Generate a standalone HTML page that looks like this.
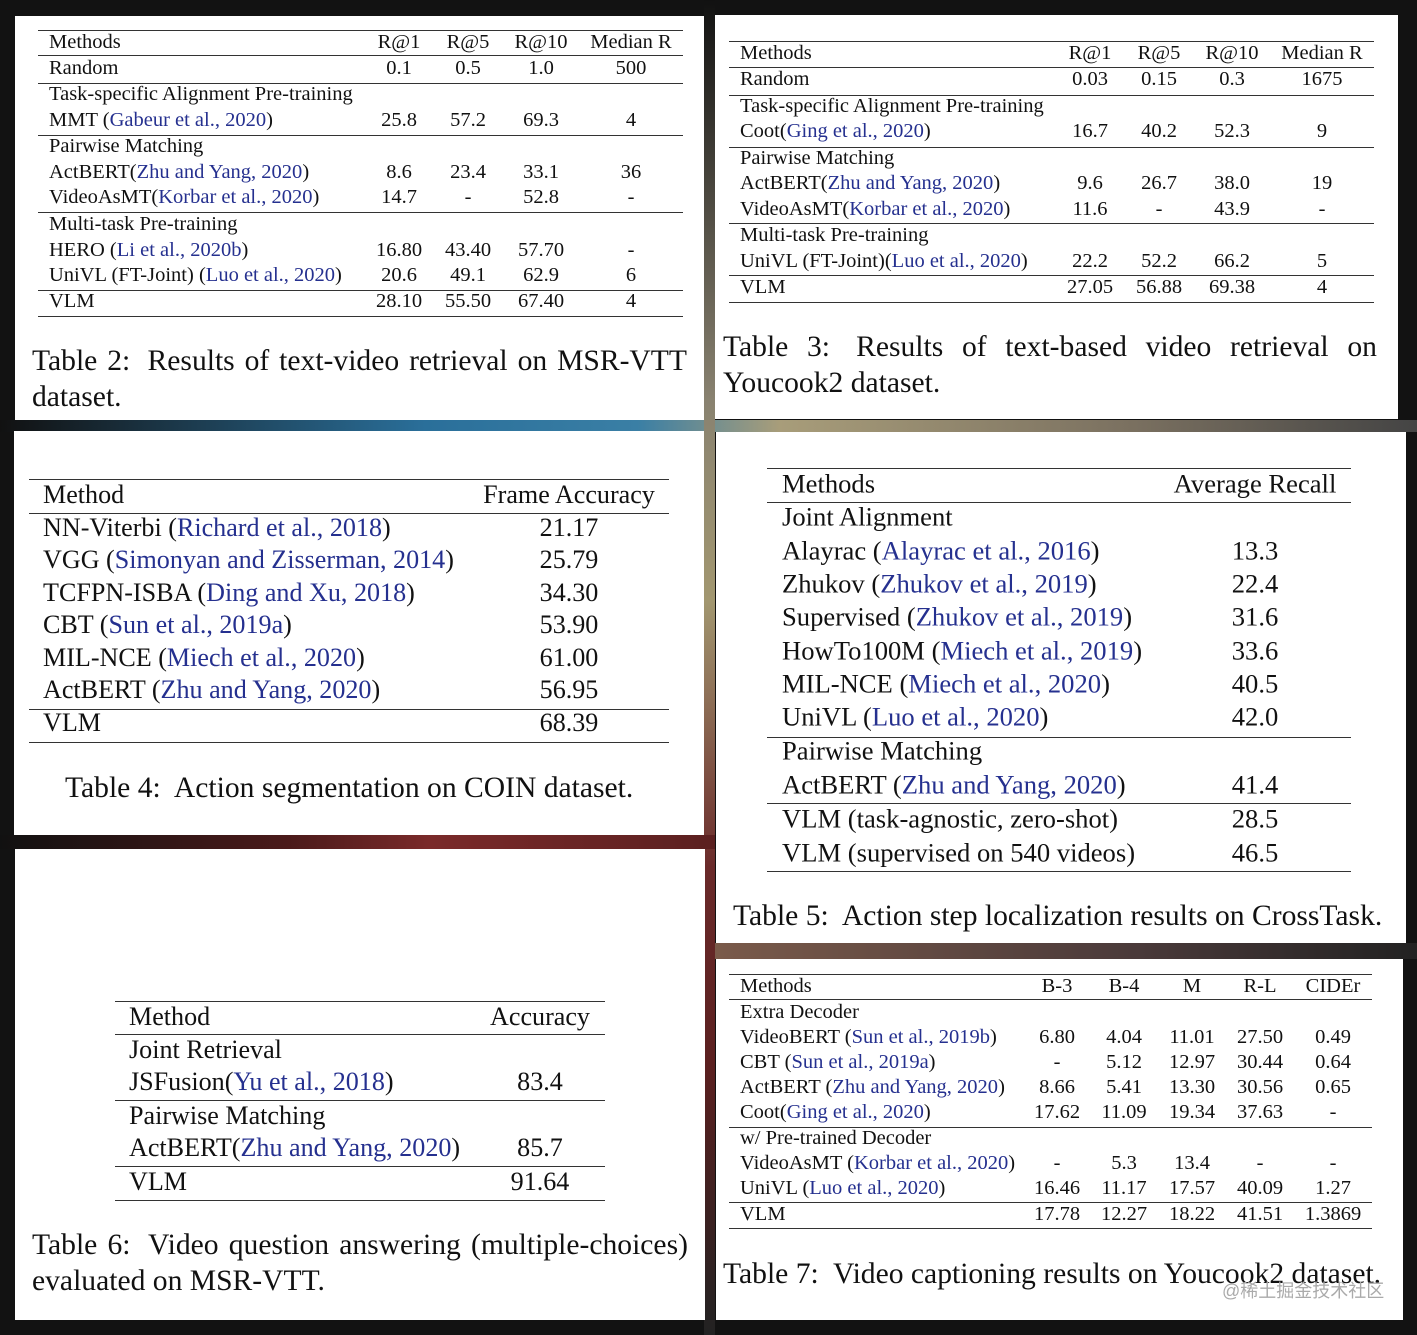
<!DOCTYPE html>
<html><head><meta charset="utf-8"><style>
body{margin:0;width:1417px;height:1335px;background:#121212;position:relative;overflow:hidden;font-family:"Liberation Serif","Noto Serif CJK SC",serif;color:#111}
.p{position:absolute;background:#fff}
.t,.c{position:absolute;white-space:nowrap;transform:translate(0,-50%);line-height:1}
.c{transform:translate(-50%,-50%)}
.l{position:absolute;height:1px;background:#333}
a,.a{color:#25308f;text-decoration:none}
.s{font-size:20.5px}
.m{font-size:26.1px}
.m5{font-size:26.6px}
.cap{font-size:29.6px}
.j{display:flex;justify-content:space-between}
.strip{position:absolute}
</style></head><body>
<div class="strip" style="left:0;top:420px;width:1417px;height:12px;background:linear-gradient(90deg,#111 0,#2a6f9a 30%,#3a7fa5 45%,#a89d7a 55%,#7a7060 80%,#444 100%)"></div>
<div class="strip" style="left:704px;top:0;width:11px;height:1335px;background:linear-gradient(180deg,#111 0,#898270 30%,#a29770 45%,#6a2a2a 65%,#5b2020 80%,#222 100%)"></div>
<div class="strip" style="left:0;top:835px;width:715px;height:14px;background:linear-gradient(90deg,#111 0,#4a1a1a 40%,#7a2a2a 60%,#5b2020 100%)"></div>
<div class="strip" style="left:715px;top:943px;width:702px;height:16px;background:linear-gradient(90deg,#7a5a4a,#4a3a3a 60%,#222)"></div>

<!-- Table 2 -->
<div class="p s" style="left:15px;top:16px;width:689px;height:404px">
<div class="l" style="left:23px;width:645px;top:14px"></div>
<div class="l" style="left:23px;width:645px;top:39px"></div>
<div class="l" style="left:23px;width:645px;top:67px"></div>
<div class="l" style="left:23px;width:645px;top:119px"></div>
<div class="l" style="left:23px;width:645px;top:196px"></div>
<div class="l" style="left:23px;width:645px;top:274px"></div>
<div class="l" style="left:23px;width:645px;top:300px"></div>
<span class="t" style="left:34px;top:26px">Methods</span><span class="c" style="left:384px;top:26px">R@1</span><span class="c" style="left:453px;top:26px">R@5</span><span class="c" style="left:526px;top:26px">R@10</span><span class="c" style="left:616px;top:26px">Median R</span>
<span class="t" style="left:34px;top:52px">Random</span><span class="c" style="left:384px;top:52px">0.1</span><span class="c" style="left:453px;top:52px">0.5</span><span class="c" style="left:526px;top:52px">1.0</span><span class="c" style="left:616px;top:52px">500</span>
<span class="t" style="left:34px;top:78px">Task-specific Alignment Pre-training</span>
<span class="t" style="left:34px;top:104px">MMT (<a>Gabeur et al., 2020</a>)</span><span class="c" style="left:384px;top:104px">25.8</span><span class="c" style="left:453px;top:104px">57.2</span><span class="c" style="left:526px;top:104px">69.3</span><span class="c" style="left:616px;top:104px">4</span>
<span class="t" style="left:34px;top:130px">Pairwise Matching</span>
<span class="t" style="left:34px;top:156px">ActBERT(<a>Zhu and Yang, 2020</a>)</span><span class="c" style="left:384px;top:156px">8.6</span><span class="c" style="left:453px;top:156px">23.4</span><span class="c" style="left:526px;top:156px">33.1</span><span class="c" style="left:616px;top:156px">36</span>
<span class="t" style="left:34px;top:181px">VideoAsMT(<a>Korbar et al., 2020</a>)</span><span class="c" style="left:384px;top:181px">14.7</span><span class="c" style="left:453px;top:181px">-</span><span class="c" style="left:526px;top:181px">52.8</span><span class="c" style="left:616px;top:181px">-</span>
<span class="t" style="left:34px;top:208px">Multi-task Pre-training</span>
<span class="t" style="left:34px;top:234px">HERO (<a>Li et al., 2020b</a>)</span><span class="c" style="left:384px;top:234px">16.80</span><span class="c" style="left:453px;top:234px">43.40</span><span class="c" style="left:526px;top:234px">57.70</span><span class="c" style="left:616px;top:234px">-</span>
<span class="t" style="left:34px;top:259px">UniVL (FT-Joint) (<a>Luo et al., 2020</a>)</span><span class="c" style="left:384px;top:259px">20.6</span><span class="c" style="left:453px;top:259px">49.1</span><span class="c" style="left:526px;top:259px">62.9</span><span class="c" style="left:616px;top:259px">6</span>
<span class="t" style="left:34px;top:285px">VLM</span><span class="c" style="left:384px;top:285px">28.10</span><span class="c" style="left:453px;top:285px">55.50</span><span class="c" style="left:526px;top:285px">67.40</span><span class="c" style="left:616px;top:285px">4</span>
<span class="t cap j" style="left:17px;top:346px;width:655px"><span>Table</span><span>2:&nbsp;</span><span>Results</span><span>of</span><span>text-video</span><span>retrieval</span><span>on</span><span>MSR-VTT</span></span>
<span class="t cap" style="left:17px;top:382px">dataset.</span>
</div>

<!-- Table 3 -->
<div class="p s" style="left:715px;top:15px;width:683px;height:404px">
<div class="l" style="left:14px;width:645px;top:26px"></div>
<div class="l" style="left:14px;width:645px;top:52px"></div>
<div class="l" style="left:14px;width:645px;top:80px"></div>
<div class="l" style="left:14px;width:645px;top:132px"></div>
<div class="l" style="left:14px;width:645px;top:208px"></div>
<div class="l" style="left:14px;width:645px;top:260px"></div>
<div class="l" style="left:14px;width:645px;top:287px"></div>
<span class="t" style="left:25px;top:38px">Methods</span><span class="c" style="left:375px;top:38px">R@1</span><span class="c" style="left:444px;top:38px">R@5</span><span class="c" style="left:517px;top:38px">R@10</span><span class="c" style="left:607px;top:38px">Median R</span>
<span class="t" style="left:25px;top:64px">Random</span><span class="c" style="left:375px;top:64px">0.03</span><span class="c" style="left:444px;top:64px">0.15</span><span class="c" style="left:517px;top:64px">0.3</span><span class="c" style="left:607px;top:64px">1675</span>
<span class="t" style="left:25px;top:91px">Task-specific Alignment Pre-training</span>
<span class="t" style="left:25px;top:116px">Coot(<a>Ging et al., 2020</a>)</span><span class="c" style="left:375px;top:116px">16.7</span><span class="c" style="left:444px;top:116px">40.2</span><span class="c" style="left:517px;top:116px">52.3</span><span class="c" style="left:607px;top:116px">9</span>
<span class="t" style="left:25px;top:143px">Pairwise Matching</span>
<span class="t" style="left:25px;top:168px">ActBERT(<a>Zhu and Yang, 2020</a>)</span><span class="c" style="left:375px;top:168px">9.6</span><span class="c" style="left:444px;top:168px">26.7</span><span class="c" style="left:517px;top:168px">38.0</span><span class="c" style="left:607px;top:168px">19</span>
<span class="t" style="left:25px;top:194px">VideoAsMT(<a>Korbar et al., 2020</a>)</span><span class="c" style="left:375px;top:194px">11.6</span><span class="c" style="left:444px;top:194px">-</span><span class="c" style="left:517px;top:194px">43.9</span><span class="c" style="left:607px;top:194px">-</span>
<span class="t" style="left:25px;top:220px">Multi-task Pre-training</span>
<span class="t" style="left:25px;top:246px">UniVL (FT-Joint)(<a>Luo et al., 2020</a>)</span><span class="c" style="left:375px;top:246px">22.2</span><span class="c" style="left:444px;top:246px">52.2</span><span class="c" style="left:517px;top:246px">66.2</span><span class="c" style="left:607px;top:246px">5</span>
<span class="t" style="left:25px;top:272px">VLM</span><span class="c" style="left:375px;top:272px">27.05</span><span class="c" style="left:444px;top:272px">56.88</span><span class="c" style="left:517px;top:272px">69.38</span><span class="c" style="left:607px;top:272px">4</span>
<span class="t cap j" style="left:8px;top:333px;width:654px"><span>Table</span><span>3:</span><span>&nbsp;Results</span><span>of</span><span>text-based</span><span>video</span><span>retrieval</span><span>on</span></span>
<span class="t cap" style="left:8px;top:369px">Youcook2 dataset.</span>
</div>

<!-- Table 4 -->
<div class="p m" style="left:14px;top:431px;width:690px;height:404px">
<div class="l" style="left:15px;width:640px;top:48px"></div>
<div class="l" style="left:15px;width:640px;top:82px"></div>
<div class="l" style="left:15px;width:640px;top:278px"></div>
<div class="l" style="left:15px;width:640px;top:311px"></div>
<span class="t" style="left:29px;top:64px">Method</span><span class="c" style="left:555px;top:64px">Frame Accuracy</span>
<span class="t" style="left:29px;top:97px">NN-Viterbi (<a>Richard et al., 2018</a>)</span><span class="c" style="left:555px;top:97px">21.17</span>
<span class="t" style="left:29px;top:129px">VGG (<a>Simonyan and Zisserman, 2014</a>)</span><span class="c" style="left:555px;top:129px">25.79</span>
<span class="t" style="left:29px;top:162px">TCFPN-ISBA (<a>Ding and Xu, 2018</a>)</span><span class="c" style="left:555px;top:162px">34.30</span>
<span class="t" style="left:29px;top:194px">CBT (<a>Sun et al., 2019a</a>)</span><span class="c" style="left:555px;top:194px">53.90</span>
<span class="t" style="left:29px;top:227px">MIL-NCE (<a>Miech et al., 2020</a>)</span><span class="c" style="left:555px;top:227px">61.00</span>
<span class="t" style="left:29px;top:259px">ActBERT (<a>Zhu and Yang, 2020</a>)</span><span class="c" style="left:555px;top:259px">56.95</span>
<span class="t" style="left:29px;top:292px">VLM</span><span class="c" style="left:555px;top:292px">68.39</span>
<span class="t cap" style="left:51px;top:358px">Table 4:&nbsp; Action segmentation on COIN dataset.</span>
</div>

<!-- Table 5 -->
<div class="p m5" style="left:716px;top:432px;width:690px;height:511px">
<div class="l" style="left:51px;width:584px;top:36px"></div>
<div class="l" style="left:51px;width:584px;top:70px"></div>
<div class="l" style="left:51px;width:584px;top:305px"></div>
<div class="l" style="left:51px;width:584px;top:371px"></div>
<div class="l" style="left:51px;width:584px;top:439px"></div>
<span class="t" style="left:66px;top:52px">Methods</span><span class="c" style="left:539px;top:52px">Average Recall</span>
<span class="t" style="left:66px;top:85px">Joint Alignment</span>
<span class="t" style="left:66px;top:119px">Alayrac (<a>Alayrac et al., 2016</a>)</span><span class="c" style="left:539px;top:119px">13.3</span>
<span class="t" style="left:66px;top:152px">Zhukov (<a>Zhukov et al., 2019</a>)</span><span class="c" style="left:539px;top:152px">22.4</span>
<span class="t" style="left:66px;top:185px">Supervised (<a>Zhukov et al., 2019</a>)</span><span class="c" style="left:539px;top:185px">31.6</span>
<span class="t" style="left:66px;top:219px">HowTo100M (<a>Miech et al., 2019</a>)</span><span class="c" style="left:539px;top:219px">33.6</span>
<span class="t" style="left:66px;top:252px">MIL-NCE (<a>Miech et al., 2020</a>)</span><span class="c" style="left:539px;top:252px">40.5</span>
<span class="t" style="left:66px;top:285px">UniVL (<a>Luo et al., 2020</a>)</span><span class="c" style="left:539px;top:285px">42.0</span>
<span class="t" style="left:66px;top:319px">Pairwise Matching</span>
<span class="t" style="left:66px;top:353px">ActBERT (<a>Zhu and Yang, 2020</a>)</span><span class="c" style="left:539px;top:353px">41.4</span>
<span class="t" style="left:66px;top:387px">VLM (task-agnostic, zero-shot)</span><span class="c" style="left:539px;top:387px">28.5</span>
<span class="t" style="left:66px;top:421px">VLM (supervised on 540 videos)</span><span class="c" style="left:539px;top:421px">46.5</span>
<span class="t cap" style="left:17px;top:485px">Table 5:&nbsp; Action step localization results on CrossTask.</span>
</div>

<!-- Table 6 -->
<div class="p m" style="left:15px;top:849px;width:690px;height:471px">
<div class="l" style="left:100px;width:490px;top:152px"></div>
<div class="l" style="left:100px;width:490px;top:185px"></div>
<div class="l" style="left:100px;width:490px;top:251px"></div>
<div class="l" style="left:100px;width:490px;top:317px"></div>
<div class="l" style="left:100px;width:490px;top:351px"></div>
<span class="t" style="left:114px;top:168px">Method</span><span class="c" style="left:525px;top:168px">Accuracy</span>
<span class="t" style="left:114px;top:201px">Joint Retrieval</span>
<span class="t" style="left:114px;top:233px">JSFusion(<a>Yu et al., 2018</a>)</span><span class="c" style="left:525px;top:233px">83.4</span>
<span class="t" style="left:114px;top:267px">Pairwise Matching</span>
<span class="t" style="left:114px;top:299px">ActBERT(<a>Zhu and Yang, 2020</a>)</span><span class="c" style="left:525px;top:299px">85.7</span>
<span class="t" style="left:114px;top:333px">VLM</span><span class="c" style="left:525px;top:333px">91.64</span>
<span class="t cap j" style="left:17px;top:397px;width:656px"><span>Table</span><span>6:&nbsp;</span><span>Video</span><span>question</span><span>answering</span><span>(multiple-choices)</span></span>
<span class="t cap" style="left:17px;top:433px">evaluated on MSR-VTT.</span>
</div>

<!-- Table 7 -->
<div class="p s" style="left:716px;top:959px;width:687px;height:361px">
<div class="l" style="left:13px;width:643px;top:15px"></div>
<div class="l" style="left:13px;width:643px;top:40px"></div>
<div class="l" style="left:13px;width:643px;top:168px"></div>
<div class="l" style="left:13px;width:643px;top:243px"></div>
<div class="l" style="left:13px;width:643px;top:269px"></div>
<span class="t" style="left:24px;top:27px">Methods</span><span class="c" style="left:341px;top:27px">B-3</span><span class="c" style="left:408px;top:27px">B-4</span><span class="c" style="left:476px;top:27px">M</span><span class="c" style="left:544px;top:27px">R-L</span><span class="c" style="left:617px;top:27px">CIDEr</span>
<span class="t" style="left:24px;top:53px">Extra Decoder</span>
<span class="t" style="left:24px;top:78px">VideoBERT (<a>Sun et al., 2019b</a>)</span><span class="c" style="left:341px;top:78px">6.80</span><span class="c" style="left:408px;top:78px">4.04</span><span class="c" style="left:476px;top:78px">11.01</span><span class="c" style="left:544px;top:78px">27.50</span><span class="c" style="left:617px;top:78px">0.49</span>
<span class="t" style="left:24px;top:103px">CBT (<a>Sun et al., 2019a</a>)</span><span class="c" style="left:341px;top:103px">-</span><span class="c" style="left:408px;top:103px">5.12</span><span class="c" style="left:476px;top:103px">12.97</span><span class="c" style="left:544px;top:103px">30.44</span><span class="c" style="left:617px;top:103px">0.64</span>
<span class="t" style="left:24px;top:128px">ActBERT (<a>Zhu and Yang, 2020</a>)</span><span class="c" style="left:341px;top:128px">8.66</span><span class="c" style="left:408px;top:128px">5.41</span><span class="c" style="left:476px;top:128px">13.30</span><span class="c" style="left:544px;top:128px">30.56</span><span class="c" style="left:617px;top:128px">0.65</span>
<span class="t" style="left:24px;top:153px">Coot(<a>Ging et al., 2020</a>)</span><span class="c" style="left:341px;top:153px">17.62</span><span class="c" style="left:408px;top:153px">11.09</span><span class="c" style="left:476px;top:153px">19.34</span><span class="c" style="left:544px;top:153px">37.63</span><span class="c" style="left:617px;top:153px">-</span>
<span class="t" style="left:24px;top:179px">w/ Pre-trained Decoder</span>
<span class="t" style="left:24px;top:204px">VideoAsMT (<a>Korbar et al., 2020</a>)</span><span class="c" style="left:341px;top:204px">-</span><span class="c" style="left:408px;top:204px">5.3</span><span class="c" style="left:476px;top:204px">13.4</span><span class="c" style="left:544px;top:204px">-</span><span class="c" style="left:617px;top:204px">-</span>
<span class="t" style="left:24px;top:229px">UniVL (<a>Luo et al., 2020</a>)</span><span class="c" style="left:341px;top:229px">16.46</span><span class="c" style="left:408px;top:229px">11.17</span><span class="c" style="left:476px;top:229px">17.57</span><span class="c" style="left:544px;top:229px">40.09</span><span class="c" style="left:617px;top:229px">1.27</span>
<span class="t" style="left:24px;top:255px">VLM</span><span class="c" style="left:341px;top:255px">17.78</span><span class="c" style="left:408px;top:255px">12.27</span><span class="c" style="left:476px;top:255px">18.22</span><span class="c" style="left:544px;top:255px">41.51</span><span class="c" style="left:617px;top:255px">1.3869</span>
<span class="t cap" style="left:7px;top:316px">Table 7:&nbsp; Video captioning results on Youcook2 dataset.</span>
<span class="t" style="left:506px;top:332px;font-size:18px;color:#aaa;font-family:'Liberation Sans','Noto Sans CJK SC',sans-serif">@稀土掘金技术社区</span>
</div>
</body></html>
